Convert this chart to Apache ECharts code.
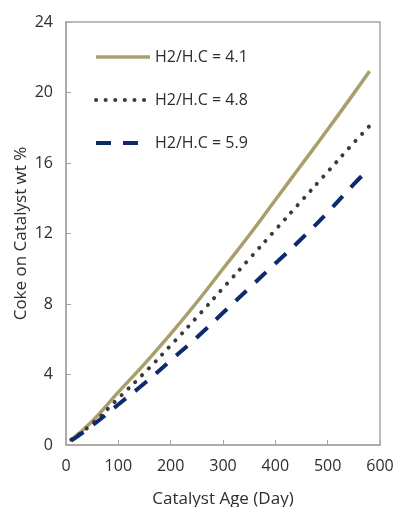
<!DOCTYPE html>
<html>
<head>
<meta charset="utf-8">
<script src="https://cdn.jsdelivr.net/npm/echarts@6/dist/echarts.min.js"></script>
<style>
  html, body { margin: 0; padding: 0; background: #fff; }
  #chart { width: 395px; height: 507px; }
</style>
</head>
<body>
<div id="chart"></div>
<script>
// catalyst age (day) and coke wt%
var ages = [10, 50, 100, 150, 200, 250, 300, 350, 400, 450, 500, 550, 580];
var coke41 = [0.3, 1.35, 3.0, 4.6, 6.3, 8.1, 10.0, 11.9, 13.9, 15.9, 17.9, 19.95, 21.2];
var coke48 = [0.3, 1.2, 2.65, 4.1, 5.65, 7.25, 8.9, 10.55, 12.2, 13.85, 15.5, 17.15, 18.1];
var coke59 = [0.25, 1.1, 2.3, 3.5, 4.8, 6.1, 7.5, 8.9, 10.3, 11.7, 13.2, 14.8, 15.7];
var seriesNames = ['H2/H.C = 4.1', 'H2/H.C = 4.8', 'H2/H.C = 5.9'];

function pairs(xs, ys) {
  return xs.map(function (x, i) { return [x, ys[i]]; });
}

var chart = echarts.init(document.getElementById('chart'));
var font = 'Open Sans, Lato, sans-serif';
var axisGray = '#a6a6a6';
var textColor = '#2e2e2e';
var colors = ['#a89f6c', '#3b3b3b', '#0e2a6e'];
var styles = [
  {color: colors[0], width: 3.5},
  {color: colors[1], width: 4, type: [0.1, 9.5], cap: 'round'},
  {color: colors[2], width: 4, type: [15, 12]}
];

chart.setOption({
  animation: false,
  textStyle: {fontFamily: font},
  grid: {
    left: 66, right: 15, top: 22, bottom: 62,
    outerBoundsMode: 'none',
    containLabel: false,
    show: true, borderColor: axisGray, borderWidth: 1.5
  },
  legend: {
    orient: 'vertical',
    left: 89,
    top: 44,
    itemWidth: 54,
    itemHeight: 14,
    itemGap: 27,
    itemStyle: {opacity: 0},
    textStyle: {fontSize: 16, color: textColor},
    data: seriesNames.map(function (n, i) {
      return {name: n, lineStyle: styles[i]};
    })
  },
  xAxis: {
    type: 'value',
    min: 0, max: 600, interval: 100,
    name: 'Catalyst Age (Day)',
    nameLocation: 'middle',
    nameGap: 46,
    nameMoveOverlap: false,
    nameTextStyle: {fontSize: 17, color: textColor},
    axisLine: {lineStyle: {color: axisGray, width: 1.5}},
    axisTick: {inside: true, length: 5, lineStyle: {color: axisGray}},
    axisLabel: {fontSize: 16, color: textColor, margin: 13},
    splitLine: {show: false}
  },
  yAxis: {
    type: 'value',
    min: 0, max: 24, interval: 4,
    name: 'Coke on Catalyst wt %',
    nameLocation: 'middle',
    nameGap: 36,
    nameMoveOverlap: false,
    nameTextStyle: {fontSize: 17, color: textColor},
    axisLine: {show: true, lineStyle: {color: axisGray, width: 1.5}},
    axisTick: {show: true, inside: true, length: 5, lineStyle: {color: axisGray}},
    axisLabel: {fontSize: 16, color: textColor, margin: 13},
    splitLine: {show: false}
  },
  series: seriesNames.map(function (n, i) {
    return {
      name: n, type: 'line', smooth: true, symbol: 'none',
      lineStyle: styles[i],
      itemStyle: {color: colors[i]},
      data: pairs(ages, [coke41, coke48, coke59][i])
    };
  })
});
</script>
</body>
</html>
